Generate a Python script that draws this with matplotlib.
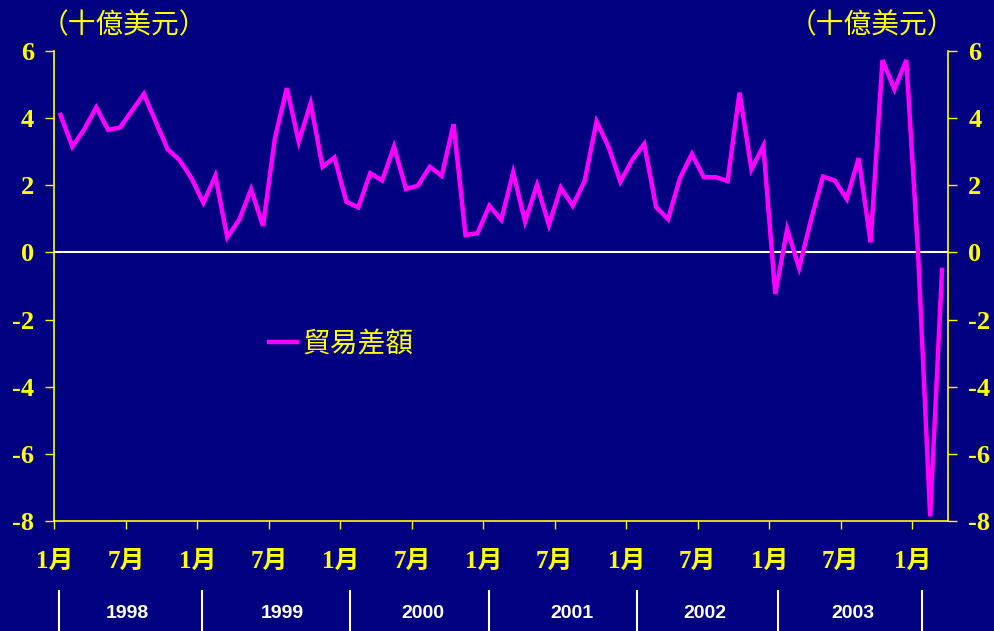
import numpy as np
import matplotlib
matplotlib.use("Agg")
import matplotlib.pyplot as plt
from matplotlib.transforms import blended_transform_factory

# monthly trade balance, Jan 1998 - Mar 2004 (billion USD)
balance = [
    4.10, 3.15, 3.67, 4.32, 3.65, 3.72, 4.22, 4.72, 3.89, 3.07, 2.75, 2.21,   # 1998
    1.48, 2.28, 0.45, 0.97, 1.88, 0.79, 3.40, 4.89, 3.30, 4.44, 2.55, 2.83,   # 1999
    1.51, 1.34, 2.36, 2.14, 3.15, 1.89, 1.99, 2.55, 2.28, 3.82, 0.52, 0.57,   # 2000
    1.39, 0.97, 2.38, 0.92, 2.01, 0.82, 1.93, 1.39, 2.13, 3.90, 3.15, 2.11,   # 2001
    2.76, 3.23, 1.35, 0.99, 2.21, 2.93, 2.24, 2.24, 2.13, 4.76, 2.48, 3.17,   # 2002
    -1.24, 0.69, -0.46, 0.97, 2.26, 2.14, 1.59, 2.81, 0.30, 5.73, 4.86, 5.73, # 2003
    -0.10, -7.86, -0.52,                                                      # 2004
]
month_labels = ["1月", "7月"] * 6 + ["1月"]
years = ["1998", "1999", "2000", "2001", "2002", "2003"]
# year separators / label centres, in month index units (hand placed like the original)
year_seps = [-0.1, 11.9, 24.3, 36.0, 48.4, 60.2, 72.3]
year_pos = [5.6, 18.6, 30.4, 42.9, 54.1, 66.5]
y_ticks = [-8, -6, -4, -2, 0, 2, 4, 6]

navy = "#000080"
yellow = "#FFFF00"
magenta = "#FF00FF"
cjk = ["Noto Sans CJK TC", "DejaVu Sans"]
serif_cjk = ["Liberation Serif", "Noto Sans CJK TC"]

fig = plt.figure(figsize=(9.95, 6.31), dpi=100, facecolor=navy)
ax = fig.add_axes([54.5 / 995, 110 / 631, 893.5 / 995, 470 / 631])
ax.set_facecolor(navy)

x = np.arange(len(balance))
ax.axhline(0, color="white", lw=1.5, zorder=1)
ax.plot(x, balance, color=magenta, lw=3.2, label="貿易差額", zorder=3,
        solid_joinstyle="miter")

ax.set_xlim(-0.5, len(balance) - 0.5)
ax.set_ylim(-8, 6)

# axes styling
for s in ["left", "right", "bottom"]:
    ax.spines[s].set_color(yellow)
    ax.spines[s].set_linewidth(1.2)
ax.spines["top"].set_visible(False)

ax.set_yticks(y_ticks)
ax.set_yticklabels([str(v) for v in y_ticks])
ax.yaxis.set_ticks_position("both")
ax.tick_params(axis="y", direction="out", length=6.5, width=1, color=yellow,
               labelcolor=yellow, labelleft=True, labelright=True, pad=8)
for lbl in ax.get_yticklabels():
    lbl.set_fontfamily("Liberation Serif")
    lbl.set_fontweight("bold")
    lbl.set_fontsize(19)

xt = np.arange(-0.5, len(balance) - 1, 6)
ax.set_xticks(xt)
ax.set_xticklabels(month_labels)
ax.tick_params(axis="x", direction="out", length=6, width=1, color=yellow,
               labelcolor=yellow, pad=15)
for lbl in ax.get_xticklabels():
    lbl.set_fontfamily(serif_cjk)
    lbl.set_fontweight("bold")
    lbl.set_fontsize(18)

# units
fig.text(124 / 995, 1 - 25 / 631, "（十億美元）", color=yellow, fontsize=20,
         family=cjk, ha="center", va="center")
fig.text(872 / 995, 1 - 25 / 631, "（十億美元）", color=yellow, fontsize=20,
         family=cjk, ha="center", va="center")

# legend
leg = ax.legend(loc="center left", bbox_to_anchor=(269 / 995, 1 - 344 / 631),
                bbox_transform=fig.transFigure, frameon=False, borderpad=0,
                borderaxespad=0, handlelength=1.0, handletextpad=0.2,
                prop={"family": cjk, "size": 20})
for t in leg.get_texts():
    t.set_color(yellow)

# year row below the axis
tr = blended_transform_factory(ax.transData, fig.transFigure)
for sx in year_seps:
    ax.plot([sx, sx], [1 - 591 / 631, 0], transform=tr, color="white", lw=1.5,
            clip_on=False)
for px, yr in zip(year_pos, years):
    ax.text(px, 1 - 614 / 631, yr, transform=tr, color="white", fontsize=14,
            fontweight="bold", family="Liberation Sans", ha="center", va="center")

fig.savefig("out.png", dpi=100, facecolor=navy)
